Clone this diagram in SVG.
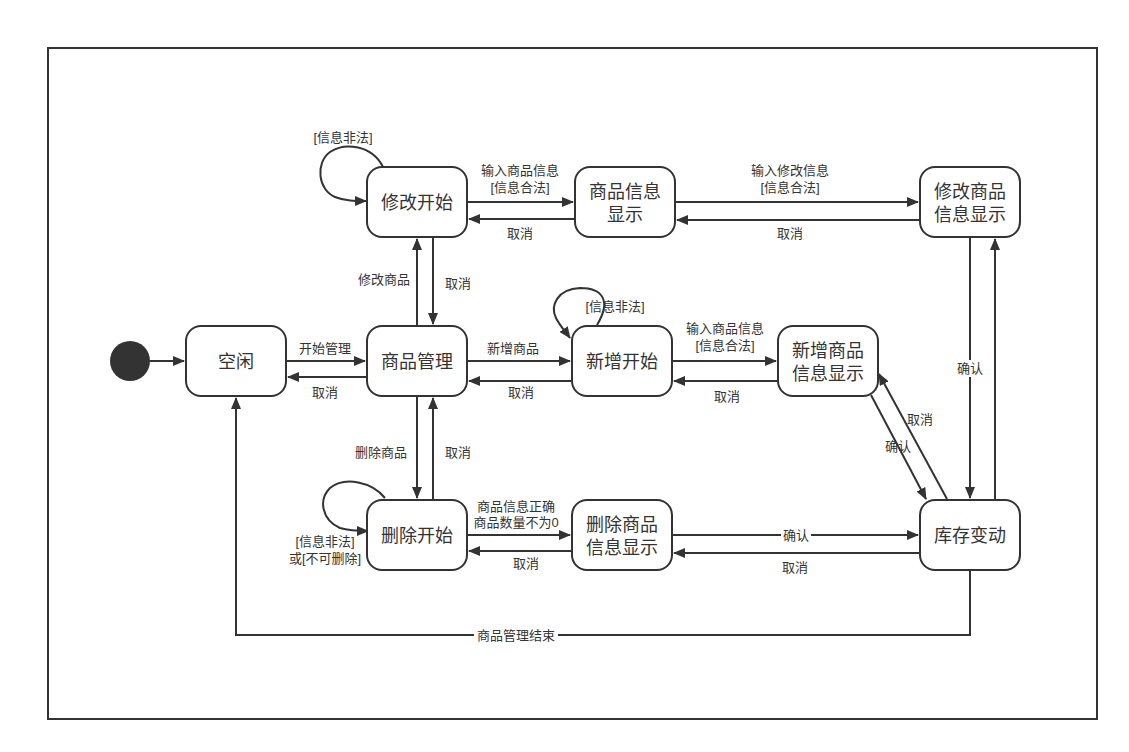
<svg xmlns="http://www.w3.org/2000/svg" width="1129" height="752" viewBox="0 0 1129 752">
<style>
.node rect{fill:#fff;stroke:#333;stroke-width:2}
.nt{font-family:"Liberation Sans","Noto Sans CJK SC",sans-serif;font-size:18px;fill:#333;text-anchor:middle}
.el{font-family:"Liberation Sans","Noto Sans CJK SC",sans-serif;font-size:13px;fill:#333;text-anchor:middle}
.c{fill:none;stroke:#333;stroke-width:2}
.bg{fill:#fff}
</style>
<defs>
<marker id="ah" markerUnits="userSpaceOnUse" markerWidth="12" markerHeight="10" refX="11" refY="5" orient="auto">
<path d="M0,0 L12,5 L0,10 Z" fill="#333"/>
</marker>
</defs>
<rect width="1129" height="752" fill="#fff"/>
<rect x="48" y="48" width="1049" height="671" fill="none" stroke="#333" stroke-width="2"/>

<g id="connectors">
<path class="c" d="M150,361 H184" marker-end="url(#ah)"/>
<path class="c" d="M286,361 H365" marker-end="url(#ah)"/>
<path class="c" d="M367,377 H288" marker-end="url(#ah)"/>
<path class="c" d="M467,361 H570" marker-end="url(#ah)"/>
<path class="c" d="M572,381 H469" marker-end="url(#ah)"/>
<path class="c" d="M672,361 H776" marker-end="url(#ah)"/>
<path class="c" d="M778,381 H674" marker-end="url(#ah)"/>
<path class="c" d="M417,326 V239" marker-end="url(#ah)"/>
<path class="c" d="M433,237 V324" marker-end="url(#ah)"/>
<path class="c" d="M417,396 V498" marker-end="url(#ah)"/>
<path class="c" d="M433,500 V398" marker-end="url(#ah)"/>
<path class="c" d="M467,202 H573" marker-end="url(#ah)"/>
<path class="c" d="M575,219 H469" marker-end="url(#ah)"/>
<path class="c" d="M675,202 H918" marker-end="url(#ah)"/>
<path class="c" d="M920,220 H677" marker-end="url(#ah)"/>
<path class="c" d="M970,237 V498" marker-end="url(#ah)"/>
<path class="c" d="M995,500 V239" marker-end="url(#ah)"/>
<path class="c" d="M871,395 L926,499" marker-end="url(#ah)"/>
<path class="c" d="M947,499 L879,374" marker-end="url(#ah)"/>
<path class="c" d="M467,535 H570" marker-end="url(#ah)"/>
<path class="c" d="M572,551 H469" marker-end="url(#ah)"/>
<path class="c" d="M672,535 H918" marker-end="url(#ah)"/>
<path class="c" d="M920,553 H674" marker-end="url(#ah)"/>
<path class="c" d="M970,570 V635 H236 V398" marker-end="url(#ah)"/>
<path class="c" d="M383,167 C372,145 345,142 330,152 C315,163 318,190 335,197 C345,201 355,201 366,201" marker-end="url(#ah)"/>
<path class="c" d="M597,325 C612,300 602,288 580,288 C557,289 550,306 556,318 C560,326 565,331 570,338" marker-end="url(#ah)"/>
<path class="c" d="M385,498 C372,482 345,476 330,488 C318,500 322,520 340,528 C350,531 358,531 368,531" marker-end="url(#ah)"/>

<text class="el" x="325" y="353">开始管理</text>
<text class="el" x="325" y="397">取消</text>
<text class="el" x="513" y="353">新增商品</text>
<text class="el" x="521" y="397">取消</text>
<text class="el" x="725" y="333">输入商品信息</text>
<text class="el" x="725" y="350">[信息合法]</text>
<text class="el" x="727" y="401">取消</text>
<text class="el" x="384" y="284">修改商品</text>
<text class="el" x="458" y="288">取消</text>
<text class="el" x="381" y="457">删除商品</text>
<text class="el" x="458" y="457">取消</text>
<text class="el" x="520" y="175">输入商品信息</text>
<text class="el" x="520" y="192">[信息合法]</text>
<text class="el" x="520" y="238">取消</text>
<text class="el" x="790" y="175">输入修改信息</text>
<text class="el" x="790" y="192">[信息合法]</text>
<text class="el" x="790" y="238">取消</text>
<rect class="bg" x="955" y="360" width="30" height="17"/>
<text class="el" x="970" y="373">确认</text>
<text class="el" x="920" y="424">取消</text>
<text class="el" x="898" y="451">确认</text>
<text class="el" x="343" y="142">[信息非法]</text>
<text class="el" x="615" y="311">[信息非法]</text>
<text class="el" x="325" y="546">[信息非法]</text>
<text class="el" x="325" y="563">或[不可删除]</text>
<text class="el" x="516" y="511">商品信息正确</text>
<text class="el" x="516" y="527">商品数量不为0</text>
<text class="el" x="526" y="568">取消</text>
<rect class="bg" x="781" y="527" width="30" height="17"/>
<text class="el" x="796" y="540">确认</text>
<text class="el" x="795" y="572">取消</text>
<rect class="bg" x="474" y="627" width="84" height="17"/>
<text class="el" x="516" y="640">商品管理结束</text>
</g>

<g id="start"><circle cx="130" cy="361" r="20" fill="#333"/></g>
<g id="idle" class="node"><rect x="186" y="326" width="100" height="70" rx="15"/><text class="nt" x="236" y="368">空闲</text></g>
<g id="manage" class="node"><rect x="367" y="326" width="100" height="70" rx="15"/><text class="nt" x="417" y="368">商品管理</text></g>
<g id="addStart" class="node"><rect x="572" y="326" width="100" height="70" rx="15"/><text class="nt" x="622" y="368">新增开始</text></g>
<g id="addShow" class="node"><rect x="778" y="326" width="100" height="70" rx="15"/><text class="nt" x="828" y="357">新增商品</text><text class="nt" x="828" y="380">信息显示</text></g>
<g id="modStart" class="node"><rect x="367" y="167" width="100" height="70" rx="15"/><text class="nt" x="417" y="209">修改开始</text></g>
<g id="infoShow" class="node"><rect x="575" y="167" width="100" height="70" rx="15"/><text class="nt" x="625" y="198">商品信息</text><text class="nt" x="625" y="221">显示</text></g>
<g id="modShow" class="node"><rect x="920" y="167" width="100" height="70" rx="15"/><text class="nt" x="970" y="198">修改商品</text><text class="nt" x="970" y="221">信息显示</text></g>
<g id="delStart" class="node"><rect x="367" y="500" width="100" height="70" rx="15"/><text class="nt" x="417" y="542">删除开始</text></g>
<g id="delShow" class="node"><rect x="572" y="500" width="100" height="70" rx="15"/><text class="nt" x="622" y="531">删除商品</text><text class="nt" x="622" y="554">信息显示</text></g>
<g id="stock" class="node"><rect x="920" y="500" width="100" height="70" rx="15"/><text class="nt" x="970" y="542">库存变动</text></g>
</svg>
